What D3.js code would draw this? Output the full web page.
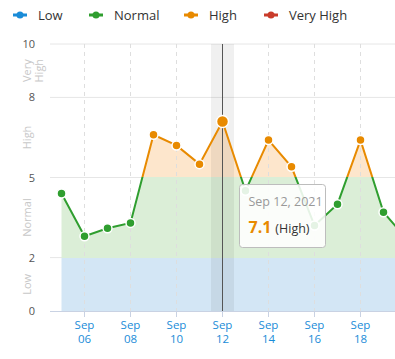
<!DOCTYPE html>
<html>
<head>
<meta charset="utf-8">
<script src="https://cdn.jsdelivr.net/npm/d3@7"></script>
<style>
  body { margin: 0; background: #fff; }
  svg { display: block; font-family: "Open Sans", "Noto Sans", sans-serif; }
</style>
</head>
<body>
<div id="chart"></div>
<script>
// readings, one per day starting Sep 5, 2021
const days = ['2021-09-05', '2021-09-06', '2021-09-07', '2021-09-08', '2021-09-09', '2021-09-10',
  '2021-09-11', '2021-09-12', '2021-09-13', '2021-09-14', '2021-09-15', '2021-09-16',
  '2021-09-17', '2021-09-18', '2021-09-19', '2021-09-20'];
const values = [4.4, 2.8, 3.1, 3.3, 6.6, 6.2, 5.5, 7.1, 4.5, 6.4, 5.4, 3.2, 4.0, 6.4, 3.7, 2.7];

const bandNames = ['Low', 'Normal', 'High', 'Very High'];
const bandEdges = [0, 2, 5, 8, 10];
const bandColors = ['#1a8cd8', '#2f9e2f', '#e88a00', '#c93c2b'];
const bandFills = ['#d3e6f5', '#dbeed7', '#fde6cc', '#f6d6d2'];
const yTicks = [0, 2, 5, 8, 10];
const xTicks = ['2021-09-06', '2021-09-08', '2021-09-10', '2021-09-12', '2021-09-14', '2021-09-16', '2021-09-18'];
const hoverDay = '2021-09-12';

const W = 395, H = 359;
const parse = d3.utcParse('%Y-%m-%d');
const data = days.map((d, i) => ({ date: parse(d), value: values[i] }));

const x = d3.scaleUtc()
  .domain([d3.utcHour.offset(parse('2021-09-05'), -12), d3.utcHour.offset(parse('2021-09-19'), 12)])
  .range([50, 395]);
const y = d3.scaleLinear().domain([0, 10]).range([311, 44]);

const bandOf = v => Math.min(3, Math.max(0, d3.bisectRight(bandEdges, v) - 1));

const svg = d3.select('#chart').append('svg')
  .attr('width', W).attr('height', H);

const defs = svg.append('defs');
defs.append('clipPath').attr('id', 'plot')
  .append('rect').attr('x', 50).attr('y', 0).attr('width', 345).attr('height', 312);

// hard-stop gradients along y for line and area
function gradient(id, colors) {
  const g = defs.append('linearGradient').attr('id', id)
    .attr('gradientUnits', 'userSpaceOnUse')
    .attr('x1', 0).attr('x2', 0).attr('y1', y(0)).attr('y2', y(10));
  colors.forEach((c, i) => {
    g.append('stop').attr('offset', bandEdges[i] / 10).attr('stop-color', c);
    g.append('stop').attr('offset', bandEdges[i + 1] / 10).attr('stop-color', c);
  });
}
gradient('lineGrad', bandColors);
gradient('areaGrad', bandFills);

// legend
const legend = svg.append('g').attr('transform', 'translate(13,15)');
const legendX = [0, 76, 171, 251];
bandNames.forEach((name, i) => {
  const g = legend.append('g').attr('transform', `translate(${legendX[i]},0)`);
  g.append('line').attr('x1', 0).attr('x2', 14).attr('stroke', bandColors[i]).attr('stroke-width', 3);
  g.append('circle').attr('cx', 7).attr('r', 3.5).attr('fill', bandColors[i]);
  g.append('text').attr('x', 25).attr('y', 5).attr('font-size', 13).attr('fill', '#333').text(name);
});

// horizontal grid
svg.append('g').selectAll('line').data([2, 5, 8, 10]).join('line')
  .attr('x1', 50).attr('x2', W)
  .attr('y1', d => y(d)).attr('y2', d => y(d))
  .attr('stroke', '#e6e6e6');

const plot = svg.append('g').attr('clip-path', 'url(#plot)');

// area under the curve
const area = d3.area().x(d => x(d.date)).y0(y(0)).y1(d => y(d.value));
plot.append('path').datum(data).attr('d', area).attr('fill', 'url(#areaGrad)');

// vertical dashed grid
plot.append('g').selectAll('line').data(xTicks.map(parse)).join('line')
  .attr('x1', d => x(d)).attr('x2', d => x(d))
  .attr('y1', y(10)).attr('y2', y(0))
  .attr('stroke', '#dedede').attr('stroke-dasharray', '4,4');

// hover band + crosshair
const hd = parse(hoverDay);
plot.append('rect')
  .attr('x', x(d3.utcHour.offset(hd, -12))).attr('width', x(d3.utcHour.offset(hd, 12)) - x(d3.utcHour.offset(hd, -12)))
  .attr('y', y(10)).attr('height', y(0) - y(10))
  .attr('fill', '#000').attr('fill-opacity', 0.06);
plot.append('line')
  .attr('x1', x(hd)).attr('x2', x(hd)).attr('y1', y(10)).attr('y2', y(0))
  .attr('stroke', '#555').attr('stroke-width', 1);

// line
const line = d3.line().x(d => x(d.date)).y(d => y(d.value));
plot.append('path').datum(data).attr('d', line)
  .attr('fill', 'none').attr('stroke', 'url(#lineGrad)').attr('stroke-width', 2);

// points
plot.append('g').selectAll('circle').data(data).join('circle')
  .attr('cx', d => x(d.date)).attr('cy', d => y(d.value))
  .attr('r', d => +d.date === +hd ? 6 : 4.5)
  .attr('fill', d => bandColors[bandOf(d.value)])
  .attr('stroke', '#fff').attr('stroke-width', 1.5);

// x axis
svg.append('line').attr('x1', 50).attr('x2', W).attr('y1', y(0) + 0.5).attr('y2', y(0) + 0.5)
  .attr('stroke', '#c9d2e3');
const xt = svg.append('g').selectAll('g').data(xTicks.map(parse)).join('g')
  .attr('transform', d => `translate(${x(d)},${y(0)})`);
xt.append('line').attr('y1', 0).attr('y2', 6).attr('stroke', '#c9d2e3');
xt.append('text').attr('y', 18).attr('text-anchor', 'middle').attr('font-size', 11.5)
  .attr('fill', '#1a8cd8').text(d3.utcFormat('%b'));
xt.append('text').attr('y', 31.5).attr('text-anchor', 'middle').attr('font-size', 11.5)
  .attr('fill', '#1a8cd8').text(d3.utcFormat('%d'));

// y axis
svg.append('g').selectAll('text').data(yTicks).join('text')
  .attr('x', 35).attr('y', d => y(d) + 4).attr('text-anchor', 'end')
  .attr('font-size', 11).attr('fill', '#555').text(d => d);

// band labels
bandNames.forEach((name, i) => {
  const cy = (y(bandEdges[i]) + y(bandEdges[i + 1])) / 2;
  const parts = i === 3 ? ['Very', 'High'] : [name];
  const t = svg.append('text')
    .attr('transform', `translate(27,${cy}) rotate(-90)`)
    .attr('text-anchor', 'middle').attr('font-size', 11).attr('fill', '#c8c8c8');
  parts.forEach((p, j) => t.append('tspan').attr('x', 0).attr('y', 4 + j * 12).text(p));
});

// tooltip
const hv = data.find(d => +d.date === +hd);
const tip = svg.append('g').attr('transform', 'translate(239.5,184.5)');
tip.append('rect').attr('width', 86).attr('height', 63).attr('rx', 3)
  .attr('fill', '#fff').attr('fill-opacity', 0.88).attr('stroke', '#bdbdbd');
tip.append('text').attr('x', 9).attr('y', 21).attr('font-size', 12.5).attr('fill', '#999')
  .text(d3.utcFormat('%b %d, %Y')(hd));
const vt = tip.append('text').attr('x', 9).attr('y', 48);
vt.append('tspan').attr('font-size', 16).attr('font-weight', 'bold')
  .attr('fill', bandColors[bandOf(hv.value)]).text(hv.value.toFixed(1));
vt.append('tspan').attr('dx', 4).attr('font-size', 12.5).attr('fill', '#333')
  .text(`(${bandNames[bandOf(hv.value)]})`);
</script>
</body>
</html>
